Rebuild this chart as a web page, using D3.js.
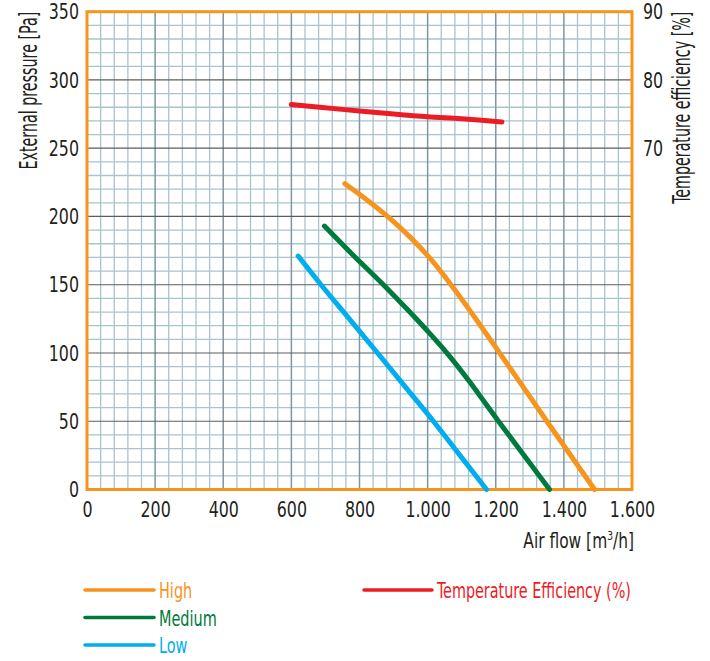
<!DOCTYPE html>
<html>
<head>
<meta charset="utf-8">
<script src="https://cdn.jsdelivr.net/npm/d3@7"></script>
<style>
  html, body { margin: 0; padding: 0; background: #fff; }
  svg { display: block; }
  text { font-family: "DejaVu Sans Condensed", "DejaVu Sans", sans-serif; fill: #231f20; }
</style>
</head>
<body>
<svg id="chart" width="710" height="661"></svg>
<script>
// ---- data ----
const xTicks = [0, 200, 400, 600, 800, 1000, 1200, 1400, 1600];
const yTicks = [0, 50, 100, 150, 200, 250, 300, 350];
const effTicks = [70, 80, 90];

const highFlow     = [757, 820, 885, 950, 1010, 1073, 1140, 1210, 1350, 1490];
const highPressure = [224, 212.5, 199.5, 184.5, 168.5, 148.5, 125.5, 100.5, 50, 0];

const mediumFlow     = [697, 780, 870, 940, 1000, 1060, 1120, 1170, 1208, 1358];
const mediumPressure = [193, 172, 150, 132, 116, 99, 80, 63, 50, 0];

const lowFlow     = [620, 687, 770, 853, 935, 1017, 1095, 1173];
const lowPressure = [171, 150, 125, 100, 75, 50, 25, 0];

const effFlow  = [600, 684, 800, 900, 1000, 1100, 1218];
const effValue = [76.4, 76.0, 75.45, 75.0, 74.6, 74.3, 73.85];

const seriesNames = ["High", "Medium", "Low"];
const effName = "Temperature Efficiency (%)";

// ---- setup ----
const svg = d3.select("#chart");
const L = 87, R = 632, T = 11.7, B = 489.5;
const x = d3.scaleLinear().domain([0, 1600]).range([L, R]);
const y = d3.scaleLinear().domain([0, 350]).range([B, T]);
const yEff = d3.scaleLinear().domain([20, 90]).range([B, T]);

const colors = { High: "#f7941d", Medium: "#00793d", Low: "#00aeef", Eff: "#ed1c24" };
const locale = d3.formatLocale({ decimal: ",", thousands: ".", grouping: [3], currency: ["", ""] });
const fmt = locale.format(",");
const FONT = '"DejaVu Sans Condensed", "DejaVu Sans", sans-serif';

// condense text horizontally (the original uses a narrow typeface)
function condense(sel, k) {
  sel.each(function () {
    const len = this.getComputedTextLength() * k;
    d3.select(this).attr("textLength", len).attr("lengthAdjust", "spacingAndGlyphs");
  });
}
// place a text inside a group scaled along its reading direction so it spans `target` px
function scaledText(parent, transform, str, size, target, anchor) {
  const g = parent.append("g").attr("transform", transform);
  const inner = g.append("g");
  const t = inner.append("text").attr("text-anchor", anchor).style("font-size", size + "px").text(str);
  const k = target / t.node().getComputedTextLength();
  inner.attr("transform", `scale(${k},1)`);
  return t;
}

// ---- grid ----
const grid = svg.append("g");
const minorX = d3.range(40, 1600, 40).filter(v => v % 200 !== 0);
const minorY = d3.range(10, 350, 10).filter(v => v % 50 !== 0);
grid.selectAll(".mx").data(minorX).join("line")
  .attr("x1", d => x(d)).attr("x2", d => x(d)).attr("y1", T).attr("y2", B)
  .attr("stroke", "#a9c3cf").attr("stroke-width", 1.3);
grid.selectAll(".my").data(minorY).join("line")
  .attr("x1", L).attr("x2", R).attr("y1", d => y(d)).attr("y2", d => y(d))
  .attr("stroke", "#a9c3cf").attr("stroke-width", 1.3);
grid.selectAll(".Mx").data(xTicks.slice(1, -1)).join("line")
  .attr("x1", d => x(d)).attr("x2", d => x(d)).attr("y1", T).attr("y2", B)
  .attr("stroke", "#7b98a4").attr("stroke-width", 1.5);
grid.selectAll(".My").data(yTicks.slice(1, -1)).join("line")
  .attr("x1", L).attr("x2", R).attr("y1", d => y(d)).attr("y2", d => y(d))
  .attr("stroke", "#5c5c5c").attr("stroke-width", 1.2);

// ---- frame ----
svg.append("rect").attr("x", L).attr("y", T).attr("width", R - L).attr("height", B - T)
  .attr("fill", "none").attr("stroke", "#f7941d").attr("stroke-width", 3);

// ---- axes (labels only) ----
const xAxis = d3.axisBottom(x).tickValues(xTicks).tickFormat(fmt).tickSize(0).tickPadding(0);
const gx = svg.append("g").attr("transform", `translate(0,${B})`).call(xAxis);
gx.select(".domain").remove();
gx.selectAll("text").attr("y", 27).attr("dy", 0).style("font-size", "22px").style("font-family", FONT).attr("fill", "#231f20");

const yAxis = d3.axisLeft(y).tickValues(yTicks).tickSize(0).tickPadding(8);
const gy = svg.append("g").attr("transform", `translate(${L},0)`).call(yAxis);
gy.select(".domain").remove();
gy.selectAll("text").style("font-size", "22px").style("font-family", FONT).attr("fill", "#231f20");

const yAxisR = d3.axisRight(yEff).tickValues(effTicks).tickSize(0).tickPadding(11);
const gyr = svg.append("g").attr("transform", `translate(${R},0)`).call(yAxisR);
gyr.select(".domain").remove();
gyr.selectAll("text").style("font-size", "22px").style("font-family", FONT).attr("fill", "#231f20");

condense(svg.selectAll(".tick text"), 0.8);

// axis titles
scaledText(svg, `translate(36.5,${T}) rotate(-90)`, "External pressure [Pa]", 24, 158, "end");
scaledText(svg, `translate(690,${T}) rotate(-90)`, "Temperature efficiency [%]", 24, 192, "end");
const afg = svg.append("g").attr("transform", `translate(634,548) scale(0.78,1)`);
const af = afg.append("text").attr("x", 0).attr("y", 0).attr("text-anchor", "end").style("font-size", "22px");
af.append("tspan").text("Air flow [m");
af.append("tspan").text("3").attr("dy", -8).style("font-size", "13px");
af.append("tspan").text("/h]").attr("dy", 8);

// ---- curves ----
const line = d3.line().curve(d3.curveCatmullRom.alpha(0.5)).x(d => x(d[0])).y(d => y(d[1]));
const lineEff = d3.line().curve(d3.curveCatmullRom.alpha(0.5)).x(d => x(d[0])).y(d => yEff(d[1]));
const curves = [
  { name: "High", data: d3.zip(highFlow, highPressure) },
  { name: "Medium", data: d3.zip(mediumFlow, mediumPressure) },
  { name: "Low", data: d3.zip(lowFlow, lowPressure) }
];
svg.append("g").selectAll("path").data(curves).join("path")
  .attr("d", d => line(d.data))
  .attr("fill", "none").attr("stroke", d => colors[d.name])
  .attr("stroke-width", 5).attr("stroke-linecap", "round").attr("stroke-linejoin", "round");
svg.append("path").attr("d", lineEff(d3.zip(effFlow, effValue)))
  .attr("fill", "none").attr("stroke", colors.Eff)
  .attr("stroke-width", 5).attr("stroke-linecap", "round");

// ---- legend ----
const legendY = [590, 617.5, 645];
const lg = svg.append("g");
seriesNames.forEach((n, i) => {
  lg.append("line").attr("x1", 85).attr("x2", 154).attr("y1", legendY[i]).attr("y2", legendY[i])
    .attr("stroke", colors[n]).attr("stroke-width", 3.5).attr("stroke-linecap", "round");
  scaledText(lg, `translate(159,${legendY[i] + 8})`, n, 22, 1, "start").each(function () {
    const natural = this.getComputedTextLength();
    d3.select(this.parentNode).attr("transform", "scale(0.73,1)");
  }).style("fill", colors[n]);
});
lg.append("line").attr("x1", 364).attr("x2", 432).attr("y1", legendY[0]).attr("y2", legendY[0])
  .attr("stroke", colors.Eff).attr("stroke-width", 3.5).attr("stroke-linecap", "round");
scaledText(lg, `translate(437,${legendY[0] + 8})`, effName, 22, 194, "start").style("fill", colors.Eff);
</script>
</body>
</html>
